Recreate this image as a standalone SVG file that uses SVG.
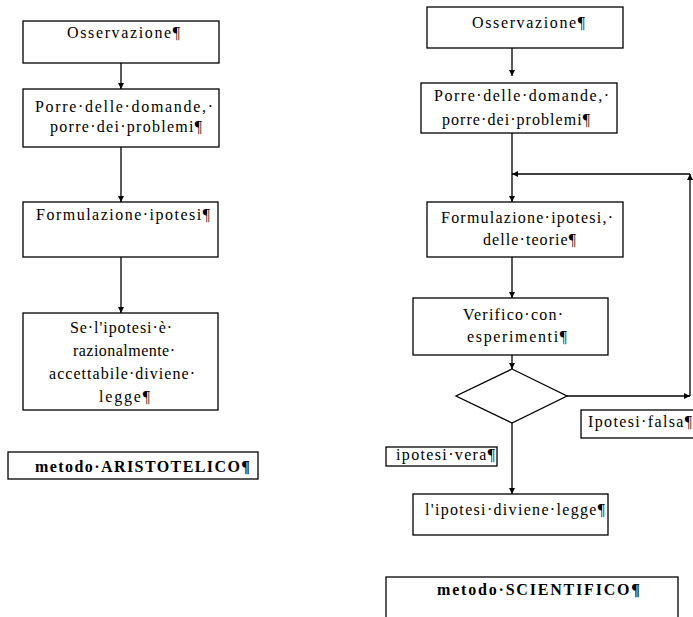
<svg xmlns="http://www.w3.org/2000/svg" width="693" height="617" viewBox="0 0 693 617">
<style>
.b{fill:#fff;stroke:#000;stroke-width:1.3}
.t{font-family:"Liberation Serif","Times New Roman",serif;font-size:16px;fill:#000}
.bd{font-weight:bold}
.c{fill:none;stroke:#000;stroke-width:1.3}
</style>
<defs>
<marker id="a" viewBox="0 0 10 10" refX="10" refY="5" markerWidth="6" markerHeight="7" orient="auto" markerUnits="userSpaceOnUse"><path d="M0,0L10,5L0,10z" fill="#000"/></marker>
</defs>
<rect width="693" height="617" fill="#fff"/>
<g id="connectors">
<line class="c" x1="121" y1="63" x2="121" y2="89" marker-end="url(#a)"/>
<line class="c" x1="121" y1="147" x2="121" y2="202" marker-end="url(#a)"/>
<line class="c" x1="121" y1="257" x2="121" y2="313" marker-end="url(#a)"/>
<line class="c" x1="512" y1="48" x2="512" y2="76" marker-end="url(#a)"/>
<line class="c" x1="512" y1="133" x2="512" y2="202" marker-end="url(#a)"/>
<line class="c" x1="512" y1="257" x2="512" y2="298" marker-end="url(#a)"/>
<line class="c" x1="512" y1="355" x2="512" y2="369" marker-end="url(#a)"/>
<line class="c" x1="512" y1="423" x2="512" y2="494" marker-end="url(#a)"/>
<line class="c" x1="567" y1="396" x2="690" y2="396" marker-end="url(#a)"/>
<line class="c" x1="690" y1="396" x2="690" y2="174" marker-end="url(#a)"/>
<line class="c" x1="690" y1="174" x2="512" y2="174" marker-end="url(#a)"/>
</g>
<g id="a1"><rect class="b" x="23" y="21" width="196" height="42"/><text class="t" x="67" y="38" textLength="113">Osservazione¶</text></g>
<g id="a2"><rect class="b" x="23" y="89" width="196" height="58"/><text class="t" x="35" y="112" textLength="178">Porre·delle·domande,·</text><text class="t" x="50" y="132" textLength="152">porre·dei·problemi¶</text></g>
<g id="a3"><rect class="b" x="23" y="202" width="195" height="55"/><text class="t" x="36" y="220" textLength="174">Formulazione·ipotesi¶</text></g>
<g id="a4"><rect class="b" x="23" y="313" width="195" height="97"/><text class="t" x="70" y="333" textLength="102">Se·l'ipotesi·è·</text><text class="t" x="73" y="356" textLength="102">razionalmente·</text><text class="t" x="49" y="379" textLength="146">accettabile·diviene·</text><text class="t" x="99" y="402" textLength="51">legge¶</text></g>
<g id="a5"><rect class="b" x="8" y="452" width="250" height="27"/><text class="t bd" x="35" y="472" textLength="215">metodo·ARISTOTELICO¶</text></g>
<g id="s1"><rect class="b" x="427" y="7" width="196" height="41"/><text class="t" x="472" y="28" textLength="113">Osservazione¶</text></g>
<g id="s2"><rect class="b" x="421" y="83" width="196" height="50"/><text class="t" x="434" y="101" textLength="175">Porre·delle·domande,·</text><text class="t" x="442" y="125" textLength="148">porre·dei·problemi¶</text></g>
<g id="s3"><rect class="b" x="427" y="202" width="196" height="55"/><text class="t" x="441" y="223" textLength="172">Formulazione·ipotesi,·</text><text class="t" x="483" y="245" textLength="93">delle·teorie¶</text></g>
<g id="s4"><rect class="b" x="413" y="298" width="195" height="57"/><text class="t" x="463" y="320" textLength="100">Verifico·con·</text><text class="t" x="467" y="342" textLength="100">esperimenti¶</text></g>
<g id="s5"><polygon class="b" points="512,369 567,396 512,423 456,396"/></g>
<g id="s6"><rect class="b" x="581" y="410" width="115" height="28"/><text class="t" x="588" y="427" textLength="104">Ipotesi·falsa¶</text></g>
<g id="s7"><rect class="b" x="386" y="447" width="111" height="19"/><text class="t" x="396" y="460" textLength="99">ipotesi·vera¶</text></g>
<g id="s8"><rect class="b" x="413" y="494" width="195" height="41"/><text class="t" x="425" y="515" textLength="180">l'ipotesi·diviene·legge¶</text></g>
<g id="s9"><rect class="b" x="386" y="577" width="292" height="50"/><text class="t bd" x="437" y="595" textLength="203">metodo·SCIENTIFICO¶</text></g>
</svg>
